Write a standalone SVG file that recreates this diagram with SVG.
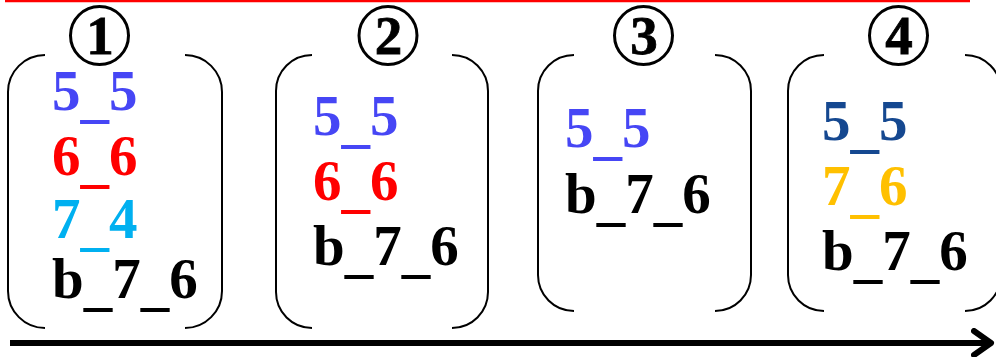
<svg xmlns="http://www.w3.org/2000/svg" width="996" height="357" viewBox="0 0 996 357">
<style>
.br{fill:none;stroke:#000;stroke-width:2}
.cir{fill:none;stroke:#000;stroke-width:3}
.num{font-family:"Liberation Serif",serif;font-weight:bold;font-size:55px;text-anchor:middle;stroke:#000;stroke-width:0.8}
.t{font-family:"Liberation Serif",serif;font-weight:bold;font-size:57px}
.blue{fill:#4646f5}
.red{fill:#ff0000}
.cyan{fill:#00b0f0}
.dblue{fill:#154890}
.gold{fill:#ffc000}
.blk{fill:#000}
</style>
<defs>
<marker id="ah" markerUnits="userSpaceOnUse" viewBox="0 0 24 30" refX="21" refY="15" markerWidth="24" markerHeight="30" orient="auto">
<polyline points="3,3 20,15 3,27" fill="none" stroke="#000" stroke-width="6" stroke-linecap="round" stroke-linejoin="round"/>
</marker>
</defs>
<rect width="996" height="357" fill="#fff"/>
<line x1="5" y1="1" x2="970" y2="1" stroke="#ff0000" stroke-width="2.5"/>
<g id="connectors">
<line x1="10" y1="343" x2="992" y2="343" stroke="#000" stroke-width="6" marker-end="url(#ah)"/>
</g>
<g id="step1">
<path class="br" d="M45,55 A37,37 0 0 0 8,92 V291 A37,37 0 0 0 45,328"/>
<path class="br" d="M185,55 A37,37 0 0 1 222,92 V291 A37,37 0 0 1 185,328"/>
<circle class="cir" cx="99.5" cy="35.5" r="29"/>
<text class="num" x="100" y="54">1</text>
<text class="t blue" x="52" y="110">5<tspan dy="6">_</tspan><tspan dy="-6">5</tspan></text>
<text class="t red" x="52" y="175">6<tspan dy="6">_</tspan><tspan dy="-6">6</tspan></text>
<text class="t cyan" x="52" y="238">7<tspan dy="6">_</tspan><tspan dy="-6">4</tspan></text>
<text class="t blk" x="52" y="298">b<tspan dy="6">_</tspan><tspan dy="-6">7</tspan><tspan dy="6">_</tspan><tspan dy="-6">6</tspan></text>
</g>
<g id="step2">
<path class="br" d="M312,55 A36,36 0 0 0 276,91 V292 A36,36 0 0 0 312,328"/>
<path class="br" d="M452,55 A36,36 0 0 1 488,91 V292 A36,36 0 0 1 452,328"/>
<circle class="cir" cx="388" cy="35.5" r="29"/>
<text class="num" x="388.5" y="54">2</text>
<text class="t blue" x="313" y="135">5<tspan dy="6">_</tspan><tspan dy="-6">5</tspan></text>
<text class="t red" x="313" y="200">6<tspan dy="6">_</tspan><tspan dy="-6">6</tspan></text>
<text class="t blk" x="313" y="265">b<tspan dy="6">_</tspan><tspan dy="-6">7</tspan><tspan dy="6">_</tspan><tspan dy="-6">6</tspan></text>
</g>
<g id="step3">
<path class="br" d="M574,55 A36,36 0 0 0 538,91 V275 A36,36 0 0 0 574,311"/>
<path class="br" d="M715,55 A36,36 0 0 1 751,91 V275 A36,36 0 0 1 715,311"/>
<circle class="cir" cx="643.5" cy="35.5" r="29"/>
<text class="num" x="644" y="54">3</text>
<text class="t blue" x="565" y="147">5<tspan dy="6">_</tspan><tspan dy="-6">5</tspan></text>
<text class="t blk" x="565" y="213">b<tspan dy="6">_</tspan><tspan dy="-6">7</tspan><tspan dy="6">_</tspan><tspan dy="-6">6</tspan></text>
</g>
<g id="step4">
<path class="br" d="M824,55 A36,36 0 0 0 788,91 V275 A36,36 0 0 0 824,311"/>
<path class="br" d="M965,55 A36,36 0 0 1 1001,91 V275 A36,36 0 0 1 965,311"/>
<circle class="cir" cx="898.5" cy="35.5" r="29"/>
<text class="num" x="899" y="54">4</text>
<text class="t dblue" x="822" y="140">5<tspan dy="6">_</tspan><tspan dy="-6">5</tspan></text>
<text class="t gold" x="822" y="205">7<tspan dy="6">_</tspan><tspan dy="-6">6</tspan></text>
<text class="t blk" x="822" y="270">b<tspan dy="6">_</tspan><tspan dy="-6">7</tspan><tspan dy="6">_</tspan><tspan dy="-6">6</tspan></text>
</g>
</svg>
